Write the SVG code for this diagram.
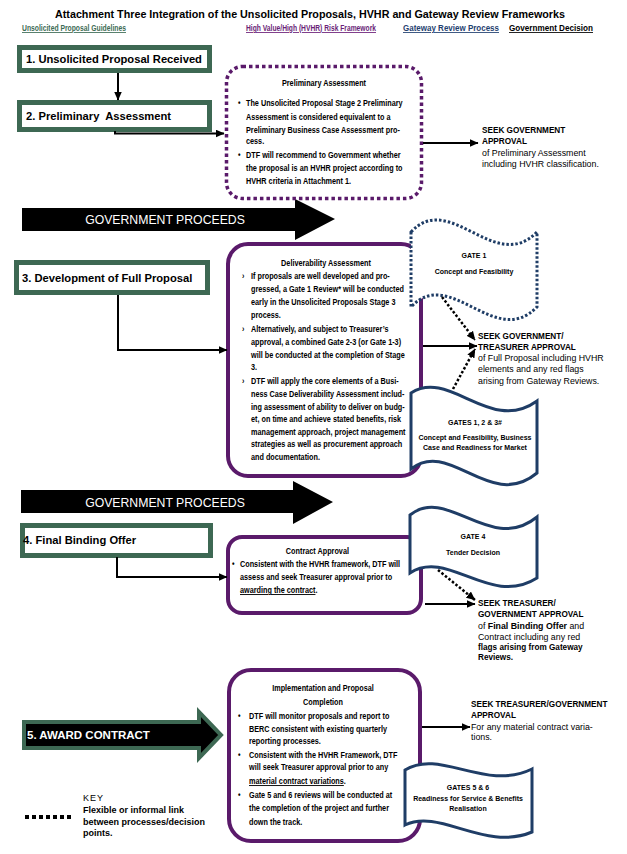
<svg xmlns="http://www.w3.org/2000/svg" width="627" height="854" viewBox="0 0 627 854">
<style>
text{font-family:"Liberation Sans",Arial,sans-serif;fill:#000}
.ttl{font-size:11.5px;font-weight:bold}
.hd{font-size:8.5px;font-weight:bold;text-decoration:underline}
.frame{fill:#fff;stroke:#3d6853;stroke-width:5}
.lbl{font-size:11.2px;font-weight:bold}
.pbox{fill:#fff;stroke:#5a1a6a;stroke-width:4}
.pdot{fill:#fff;stroke:#5a1a6a;stroke-width:3.5;stroke-dasharray:3.5 3}
.gate{fill:#fff;stroke:#1f3d66;stroke-width:3}
.gdot{fill:#fff;stroke:#1f3d66;stroke-width:3;stroke-dasharray:2.5 2}
.nb{font-size:9.2px;font-weight:bold}
.sb{font-size:8.2px;font-weight:bold}
.sr{font-size:8.8px}
.gt{font-size:7px;font-weight:bold;text-anchor:middle}
.gp{fill:#fff;font-size:12.25px;text-anchor:middle}
.con{stroke:#000;stroke-width:2;fill:none}
.dcon{stroke:#000;stroke-width:2.5;stroke-dasharray:2.5 2;fill:none}
</style>
<defs>
<marker id="ah" markerUnits="userSpaceOnUse" markerWidth="9" markerHeight="8" refX="8.5" refY="4" orient="auto">
<path d="M0,0 L9,4 L0,8 Z" fill="#000"/>
</marker>
</defs>
<rect width="627" height="854" fill="#fff"/>

<g id="header">
<text class="ttl" x="55" y="18" textLength="510" lengthAdjust="spacingAndGlyphs">Attachment Three Integration of the Unsolicited Proposals, HVHR and Gateway Review Frameworks</text>
<text class="hd" x="22" y="31" style="fill:#3d6b55" textLength="104" lengthAdjust="spacingAndGlyphs">Unsolicited Proposal Guidelines</text>
<text class="hd" x="246" y="31" style="fill:#6b1f78" textLength="130" lengthAdjust="spacingAndGlyphs">High Value/High (HVHR) Risk Framework</text>
<text class="hd" x="403" y="31" style="fill:#1f3f6f" textLength="96" lengthAdjust="spacingAndGlyphs">Gateway Review Process</text>
<text class="hd" x="509" y="31" textLength="84" lengthAdjust="spacingAndGlyphs">Government Decision</text>
</g>

<g id="step1">
<rect class="frame" x="19.5" y="47.5" width="190" height="23"/>
<text class="lbl" x="26" y="63">1. Unsolicited Proposal Received</text>
</g>
<g id="step2">
<rect class="frame" x="19.5" y="102.5" width="190" height="27"/>
<text class="lbl" x="26" y="120" xml:space="preserve">2. Preliminary  Assessment</text>
</g>
<g id="step3">
<rect class="frame" x="16.5" y="262.5" width="191" height="30"/>
<text class="lbl" x="22" y="282">3. Development of Full Proposal</text>
</g>
<g id="step4">
<rect class="frame" x="22.5" y="525.5" width="188" height="30"/>
<text class="lbl" x="23" y="544">4. Final Binding Offer</text>
</g>

<g id="gov-proceeds-1">
<polygon points="22,208 295,208 295,199 335,219 295,240 295,231 22,231" fill="#000"/>
<text class="gp" x="165" y="223.5">GOVERNMENT PROCEEDS</text>
</g>
<g id="gov-proceeds-2">
<polygon points="21,490 293,490 293,481 333,502 293,524 293,513 21,513" fill="#000"/>
<text class="gp" x="165" y="506.5">GOVERNMENT PROCEEDS</text>
</g>
<g id="award-contract">
<polygon points="24,722 199,722 199,712 221,735 199,758 199,748 24,748" fill="#000" stroke="#3d6853" stroke-width="4"/>
<text x="27" y="739" style="fill:#fff;font-size:11.5px;font-weight:bold">5. AWARD CONTRACT</text>
</g>

<g id="prelim-assessment">
<rect class="pdot" x="226.5" y="66.5" width="195" height="132" rx="16"/>
<g class="nb" transform="translate(246 0) scale(0.79 1)">
<text x="98.7" y="86" text-anchor="middle">Preliminary Assessment</text>
<text x="-10.1" y="106">•</text>
<text x="0" y="106">The Unsolicited Proposal Stage 2 Preliminary</text>
<text x="0" y="120">Assessment is considered equivalent to a</text>
<text x="0" y="133">Preliminary Business Case Assessment pro-</text>
<text x="0" y="144">cess.</text>
<text x="-10.1" y="158">•</text>
<text x="0" y="158">DTF will recommend to Government whether</text>
<text x="0" y="171">the proposal is an HVHR project according to</text>
<text x="0" y="184">HVHR criteria in Attachment 1.</text>
</g>
</g>

<g id="deliverability">
<rect class="pbox" x="228" y="244" width="193" height="232" rx="20"/>
<g class="nb" transform="translate(251 0) scale(0.79 1)">
<text x="94.9" y="266" text-anchor="middle">Deliverability Assessment</text>
<text x="-11.4" y="279">›</text>
<text x="0" y="279">If proposals are well developed and pro-</text>
<text x="0" y="292">gressed, a Gate 1 Review* will be conducted</text>
<text x="0" y="305">early in the Unsolicited Proposals Stage 3</text>
<text x="0" y="318">process.</text>
<text x="-11.4" y="332">›</text>
<text x="0" y="332">Alternatively, and subject to Treasurer’s</text>
<text x="0" y="345">approval, a combined Gate 2-3 (or Gate 1-3)</text>
<text x="0" y="358">will be conducted at the completion of Stage</text>
<text x="0" y="370">3.</text>
<text x="-11.4" y="384">›</text>
<text x="0" y="384">DTF will apply the core elements of a Busi-</text>
<text x="0" y="397">ness Case Deliverability Assessment includ-</text>
<text x="0" y="410">ing assessment of ability to deliver on budg-</text>
<text x="0" y="422">et, on time and achieve stated benefits, risk</text>
<text x="0" y="435">management approach, project management</text>
<text x="0" y="447">strategies as well as procurement approach</text>
<text x="0" y="460">and documentation.</text>
</g>
</g>

<g id="contract-approval">
<rect class="pbox" x="228" y="537" width="193" height="76" rx="14"/>
<g class="nb" transform="translate(240 0) scale(0.79 1)">
<text x="98" y="554" text-anchor="middle">Contract Approval</text>
<text x="-10.1" y="567">•</text>
<text x="0" y="567">Consistent with the HVHR framework, DTF will</text>
<text x="0" y="580">assess and seek Treasurer approval prior to</text>
<text x="0" y="593"><tspan text-decoration="underline">awarding the contract</tspan>.</text>
</g>
</g>

<g id="implementation">
<rect class="pbox" x="229" y="670" width="191" height="171" rx="22"/>
<g class="nb" transform="translate(249 0) scale(0.79 1)">
<text x="93.7" y="691" text-anchor="middle">Implementation and Proposal</text>
<text x="93.7" y="705" text-anchor="middle">Completion</text>
<text x="-13.9" y="719">•</text>
<text x="0" y="719">DTF will monitor proposals and report to</text>
<text x="0" y="732">BERC consistent with existing quarterly</text>
<text x="0" y="744">reporting processes.</text>
<text x="-13.9" y="758">•</text>
<text x="0" y="758">Consistent with the HVHR Framework, DTF</text>
<text x="0" y="770">will seek Treasurer approval prior to any</text>
<text x="0" y="784"><tspan text-decoration="underline">material contract variations</tspan>.</text>
<text x="-13.9" y="798">•</text>
<text x="0" y="798">Gate 5 and 6 reviews will be conducted at</text>
<text x="0" y="811">the completion of the project and further</text>
<text x="0" y="825">down the track.</text>
</g>
</g>

<g id="gate1">
<path class="gdot" d="M411,232 C450,190 495,275 537,232 L537,307 C495,350 450,265 411,307 Z"/>
<text class="gt" x="474" y="258">GATE 1</text>
<text class="gt" x="474" y="274">Concept and Feasibility</text>
</g>
<g id="gates123">
<path class="gate" d="M411,393 C450,368 490,435 537,401 L537,473 C490,512 450,438 411,469 Z"/>
<text class="gt" x="475" y="425">GATES 1, 2 &amp; 3#</text>
<text class="gt" x="475" y="440">Concept and Feasibility, Business</text>
<text class="gt" x="475" y="450">Case and Readiness for Market</text>
</g>
<g id="gate4">
<path class="gate" d="M410,515 C448,485 490,555 537,517 L537,578 C490,608 448,548 410,573 Z"/>
<text class="gt" x="473" y="539">GATE 4</text>
<text class="gt" x="473" y="555">Tender Decision</text>
</g>
<g id="gates56">
<path class="gate" d="M405,770 C440,748 485,792 532,769 L532,832 C485,852 440,808 405,825 Z"/>
<text class="gt" x="468" y="790">GATES 5 &amp; 6</text>
<text class="gt" x="468" y="801">Readiness for Service &amp; Benefits</text>
<text class="gt" x="468" y="811">Realisation</text>
</g>

<g id="decision1">
<text class="sb" x="482" y="133">SEEK GOVERNMENT</text>
<text class="sb" x="482" y="144">APPROVAL</text>
<text class="sr" x="482" y="156">of Preliminary Assessment</text>
<text class="sr" x="482" y="167">including HVHR classification.</text>
</g>
<g id="decision2">
<text class="sb" x="478" y="339">SEEK GOVERNMENT/</text>
<text class="sb" x="478" y="350">TREASURER APPROVAL</text>
<text class="sr" x="478" y="361">of Full Proposal including HVHR</text>
<text class="sr" x="478" y="372">elements and any red flags</text>
<text class="sr" x="478" y="384">arising from Gateway Reviews.</text>
</g>
<g id="decision3">
<text class="sb" x="478" y="606">SEEK TREASURER/</text>
<text class="sb" x="478" y="617">GOVERNMENT APPROVAL</text>
<text class="sr" x="478" y="629">of <tspan font-weight="bold">Final Binding Offer</tspan> and</text>
<text class="sr" x="478" y="640">Contract including any red</text>
<text class="sb" x="478" y="650">flags arising from Gateway</text>
<text class="sb" x="478" y="660">Reviews.</text>
</g>
<g id="decision4">
<text class="sb" x="471" y="707">SEEK TREASURER/GOVERNMENT</text>
<text class="sb" x="471" y="718">APPROVAL</text>
<text class="sr" x="471" y="730">For any material contract varia-</text>
<text class="sr" x="471" y="740">tions.</text>
</g>

<g id="connectors">
<path class="con" d="M118,73 V100" marker-end="url(#ah)"/>
<path class="con" d="M115,131 V133.5 H224" marker-end="url(#ah)"/>
<path class="con" d="M423,143 H478" marker-end="url(#ah)"/>
<path class="con" d="M118,295 V350 H227" marker-end="url(#ah)"/>
<path class="con" d="M423,346 H477" marker-end="url(#ah)"/>
<path class="dcon" d="M442,297 L475,340" marker-end="url(#ah)"/>
<path class="dcon" d="M453,389 L475,349" marker-end="url(#ah)"/>
<path class="con" d="M117,557 V577 H227" marker-end="url(#ah)"/>
<path class="dcon" d="M438,570 L475,600" marker-end="url(#ah)"/>
<path class="con" d="M425,604 H475" marker-end="url(#ah)"/>
<path class="con" d="M422,727 H470" marker-end="url(#ah)"/>
</g>

<g id="key">
<path d="M25,817 H72" stroke="#000" stroke-width="4" stroke-dasharray="4 3" fill="none"/>
<text x="83" y="801" style="font-size:9px;letter-spacing:1px">KEY</text>
<text x="83" y="813" style="font-size:9px;font-weight:bold">Flexible or informal link</text>
<text x="83" y="825" style="font-size:9px;font-weight:bold">between processes/decision</text>
<text x="83" y="836" style="font-size:9px;font-weight:bold">points.</text>
</g>
</svg>
